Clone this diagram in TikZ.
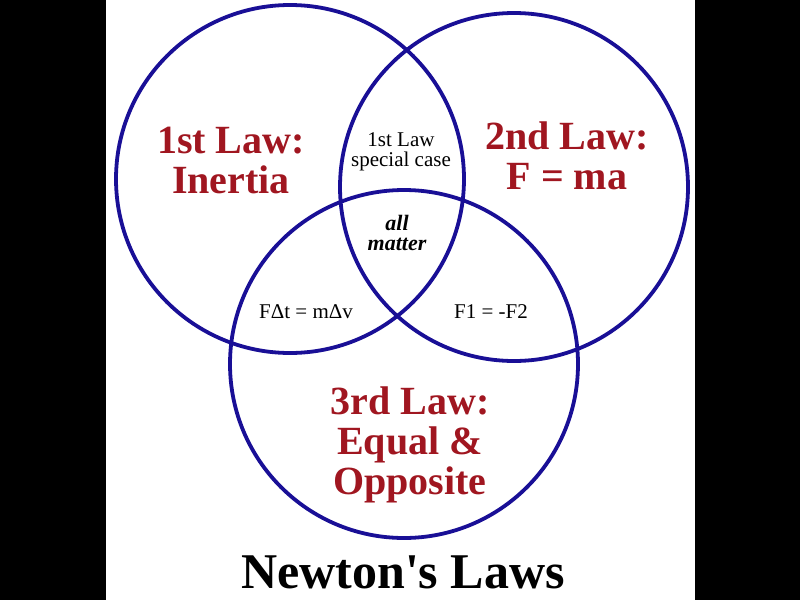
\documentclass[tikz,border=0pt]{standalone}
\usepackage{fontspec}
\setmainfont{Liberation Serif}
\definecolor{ringblue}{RGB}{25,15,150}
\definecolor{lawred}{RGB}{160,22,32}

\begin{document}
\begin{tikzpicture}[x=1pt,y=-1pt,
  ring/.style={line width=3.8pt,ringblue},
  lawtext/.style={align=center,text=lawred,font=\fontsize{40}{40}\selectfont\bfseries},
  smalltext/.style={align=center,font=\fontsize{21}{20}\selectfont},
  inner sep=0pt]
\useasboundingbox (0,0) rectangle (800,600);
\fill[black] (0,0) rectangle (106,600);
\fill[black] (695,0) rectangle (800,600);

 \draw[ring] (290,179) circle (174pt);
 \draw[ring] (514,187) circle (174pt);
 \draw[ring] (404,364) circle (174pt);

 \node[lawtext] (first) at (231,160) {1st Law:\\Inertia};
 \node[lawtext] (second) at (567,156) {2nd Law:\\F = ma};
 \node[lawtext] (third) at (410,445) {3rd Law:\\Equal \&\\Opposite};

 \node[smalltext] (special) at (401,152) {1st Law\\special case};
 \node[smalltext,font=\fontsize{22}{20}\selectfont\bfseries\itshape] (matter) at (397,233) {all\\matter};
 \node[smalltext] (impulse) at (306,312) {FΔt = mΔv};
 \node[smalltext] (pair) at (491,312) {F1 = -F2};

 \node[font=\fontsize{50}{50}\selectfont\bfseries] (title) at (403,572) {Newton\textquotesingle s Laws};
\end{tikzpicture}
\end{document}
